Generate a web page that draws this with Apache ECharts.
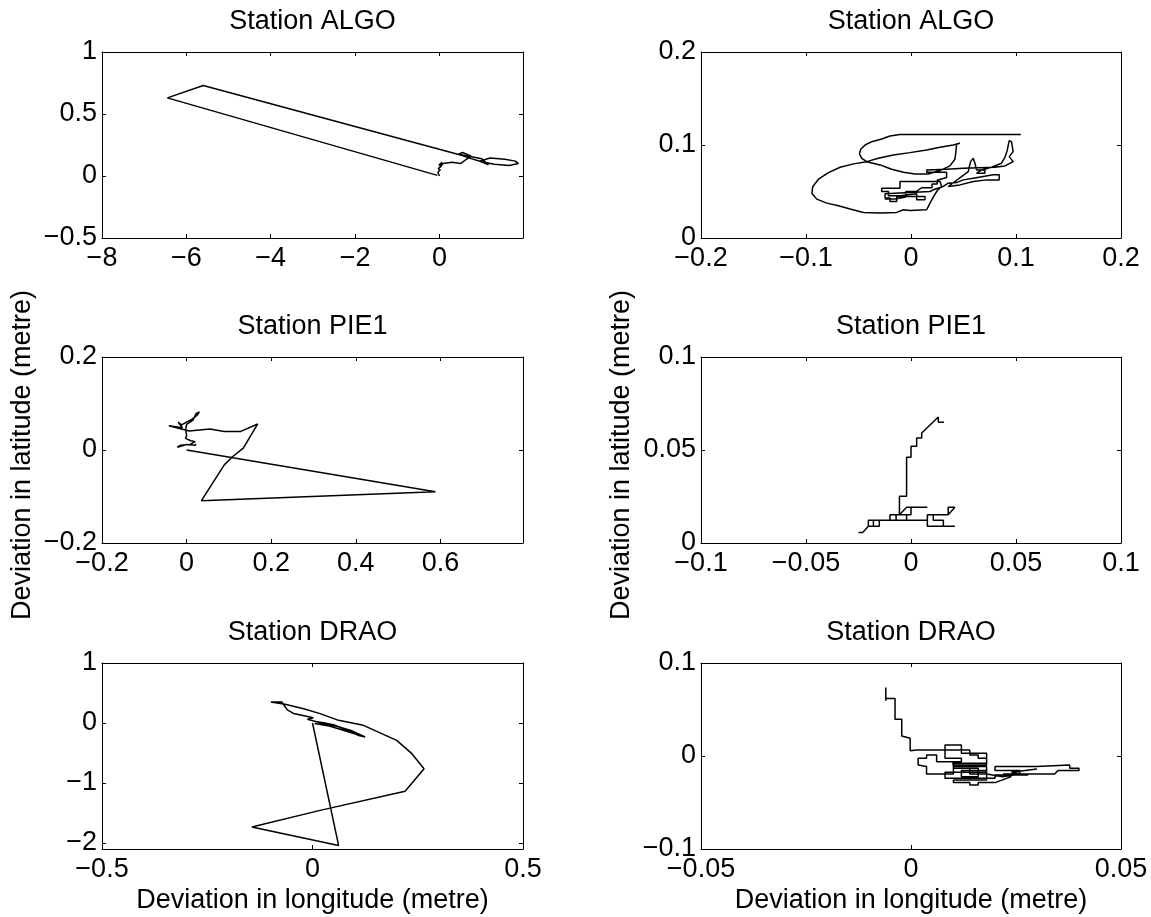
<!DOCTYPE html>
<html>
<head>
<meta charset="utf-8">
<script src="https://cdn.jsdelivr.net/npm/echarts@6/dist/echarts.min.js"></script>
<style>
  html, body { margin: 0; padding: 0; background: #fff; }
  #chart { width: 1151px; height: 917px; }
</style>
</head>
<body>
<div id="chart"></div>
<script>
// Horizontal deviation tracks [longitude, latitude] in metres, per station.
// Left column: full record; right column: cleaned record (close-up).
const algoFullTrack = [
  [0, 0], [-0.04, 0.03], [0.02, 0.05], [-0.03, 0.06], [0.04, 0.08], [-0.01, 0.09],
  [0.06, 0.11], [0.02, 0.07], [0.08, 0.10], [0.3, 0.11], [0.5, 0.10], [0.62, 0.13],
  [0.75, 0.16], [0.55, 0.19], [0.45, 0.175], [0.7, 0.16], [1.0, 0.14], [1.16, 0.09],
  [0.95, 0.12], [1.2, 0.145], [1.55, 0.135], [1.8, 0.12], [1.87, 0.10], [1.65, 0.085],
  [1.3, 0.095], [1.0, 0.115], [0.75, 0.14], [0.52, 0.167], [-5.6, 0.73], [-6.45, 0.63],
  [-0.05, 0.005]
];

const algoCleanTrack = [
  [0.1046, 0.1114], [-0.0105, 0.1114], [-0.0200, 0.1097], [-0.0279, 0.1064], [-0.0374, 0.1036],
  [-0.0437, 0.1000], [-0.0479, 0.0954], [-0.0491, 0.0904], [-0.0469, 0.0857], [-0.0421, 0.0821],
  [-0.0295, 0.0786], [-0.0184, 0.0739], [-0.0073, 0.0707], [0.0038, 0.0689], [0.0165, 0.0689],
  [0.0276, 0.0725], [0.0371, 0.0775], [0.0418, 0.0846], [0.0428, 0.0929], [0.0434, 0.1011],
  [0.0466, 0.1018], [0.0403, 0.1000], [0.0276, 0.0975], [0.0149, 0.0946], [-0.0010, 0.0918],
  [-0.0168, 0.0893], [-0.0311, 0.0857], [-0.0421, 0.0821], [-0.0548, 0.0797], [-0.0675, 0.0761],
  [-0.0786, 0.0703], [-0.0881, 0.0632], [-0.0935, 0.0554], [-0.0944, 0.0482], [-0.0897, 0.0418],
  [-0.0802, 0.0375], [-0.0691, 0.0346], [-0.0580, 0.0311], [-0.0453, 0.0275], [-0.0295, 0.0268],
  [-0.0136, 0.0275], [-0.0073, 0.0304], [-0.0010, 0.0296], [0.0149, 0.0304], [0.0181, 0.0375],
  [0.0219, 0.0454], [0.0251, 0.0511], [0.0292, 0.0554], [0.0276, 0.0607], [-0.0105, 0.0607],
  [-0.0105, 0.0536], [-0.0279, 0.0536], [-0.0279, 0.0500], [-0.0215, 0.0500], [-0.0215, 0.0454],
  [-0.0105, 0.0454], [-0.0105, 0.0475], [0.0054, 0.0475], [0.0054, 0.0411], [0.0133, 0.0411],
  [0.0133, 0.0446], [-0.0136, 0.0446], [-0.0136, 0.0393], [-0.0200, 0.0393], [-0.0200, 0.0429],
  [-0.0247, 0.0429], [-0.0247, 0.0475], [0.0181, 0.0500], [0.0212, 0.0518], [0.0307, 0.0554],
  [0.0355, 0.0589], [0.0434, 0.0596], [0.0498, 0.0625], [0.0593, 0.0643], [0.0688, 0.0661],
  [0.0783, 0.0679], [0.0840, 0.0679], [0.0840, 0.0625], [0.0720, 0.0625], [0.0593, 0.0607],
  [0.0466, 0.0571], [0.0355, 0.0554], [0.0545, 0.0714], [0.0567, 0.0821], [0.0593, 0.0857],
  [0.0609, 0.0804], [0.0624, 0.0732], [0.0704, 0.0732], [0.0704, 0.0696], [0.0624, 0.0696],
  [0.0672, 0.0732], [0.0767, 0.0761], [0.0862, 0.0804], [0.0894, 0.0868], [0.0916, 0.0939],
  [0.0935, 0.1047], [0.0957, 0.1036], [0.0973, 0.0929], [0.0935, 0.0875], [0.0973, 0.0821],
  [0.0894, 0.0775], [0.0799, 0.0761], [0.0498, 0.0750], [0.0339, 0.0739], [0.0149, 0.0732],
  [0.0149, 0.0707], [0.0339, 0.0707], [0.0339, 0.0650], [0.0250, 0.0620], [0.0250, 0.0580],
  [0.0200, 0.0580], [0.0200, 0.0540], [0.0100, 0.0540], [0.0050, 0.0500], [-0.0050, 0.0500],
  [-0.0050, 0.0440], [-0.0150, 0.0420], [-0.0250, 0.0420]
];

const pie1FullTrack = [
  [0, 0], [0.588, -0.090], [0.035, -0.109], [0.089, -0.032], [0.109, -0.014], [0.134, 0.004],
  [0.168, 0.056], [0.128, 0.040], [0.089, 0.040], [0.055, 0.045], [0.053, 0.041], [0.006, 0.041],
  [-0.042, 0.052], [-0.010, 0.048], [-0.020, 0.060], [-0.012, 0.054], [0.000, 0.060], [0.012, 0.066],
  [0.020, 0.071], [0.026, 0.076], [0.030, 0.082], [0.022, 0.078], [0.015, 0.064], [0.000, 0.055],
  [-0.002, 0.045], [0.000, 0.030], [-0.003, 0.025], [0.010, 0.020], [0.020, 0.018], [0.008, 0.012],
  [-0.015, 0.010], [-0.022, 0.006], [0.000, 0.012], [0.020, 0.010], [0.022, 0.013]
];

const pie1CleanTrack = [
  [0.0157, 0.0649], [0.0130, 0.0649], [0.0130, 0.0677], [0.0051, 0.0591], [0.0051, 0.0565],
  [0.0027, 0.0565], [0.0027, 0.0520], [0.0000, 0.0520], [0.0000, 0.0461], [-0.0021, 0.0461],
  [-0.0021, 0.0251], [-0.0055, 0.0251], [-0.0055, 0.0152], [-0.0021, 0.0192], [0.0078, 0.0192],
  [0.0000, 0.0192], [0.0000, 0.0152], [-0.0100, 0.0152], [-0.0100, 0.0122], [-0.0071, 0.0122],
  [-0.0071, 0.0152], [-0.0021, 0.0152], [-0.0021, 0.0122], [0.0078, 0.0122], [0.0078, 0.0152],
  [0.0177, 0.0152], [0.0209, 0.0192], [0.0177, 0.0192], [0.0177, 0.0152], [0.0106, 0.0152],
  [0.0106, 0.0122], [0.0154, 0.0122], [0.0154, 0.0090], [0.0209, 0.0090], [0.0078, 0.0090],
  [0.0078, 0.0122], [-0.0203, 0.0122], [-0.0203, 0.0090], [-0.0151, 0.0090], [-0.0151, 0.0122],
  [-0.0179, 0.0122], [-0.0179, 0.0090], [-0.0203, 0.0090], [-0.0230, 0.0057], [-0.0250, 0.0057]
];

const draoFullTrack = [
  [0, 0], [0.062, -2.04], [-0.144, -1.733], [0.018, -1.456], [0.220, -1.139], [0.265, -0.761],
  [0.236, -0.511], [0.200, -0.289], [0.121, -0.039], [0.062, 0.044], [0.018, 0.156], [-0.021, 0.239],
  [-0.065, 0.311], [-0.099, 0.350], [-0.073, 0.350], [-0.068, 0.300], [-0.060, 0.220], [-0.045, 0.160],
  [0.002, 0.089], [-0.012, 0.061], [0.020, 0.000], [0.060, -0.060], [0.090, -0.120], [0.125, -0.233],
  [0.110, -0.210], [0.070, -0.080], [0.030, 0.000], [0.010, 0.020], [0.050, -0.030], [0.075, -0.100],
  [0.100, -0.180], [0.040, -0.050], [0.005, -0.010]
];

const draoCleanTrack = [
  [-0.0060, 0.0737], [-0.0060, 0.0594], [-0.0060, 0.0619], [-0.0038, 0.0619], [-0.0038, 0.0394],
  [-0.0022, 0.0394], [-0.0022, 0.0215], [-0.0002, 0.0190], [-0.0002, 0.0057], [0.0013, 0.0064],
  [0.0140, 0.0064], [0.0140, 0.0011], [0.0160, 0.0011], [0.0160, -0.0025], [0.0180, -0.0025],
  [0.0180, -0.0097], [0.0100, -0.0097], [0.0100, -0.0061], [0.0061, -0.0061], [0.0061, 0.0011],
  [0.0037, 0.0011], [0.0037, -0.0025], [0.0017, -0.0025], [0.0017, -0.0097], [0.0037, -0.0114],
  [0.0037, -0.0193], [0.0101, -0.0193], [0.0101, -0.0132], [0.0160, -0.0132], [0.0160, -0.0222],
  [0.0120, -0.0222], [0.0120, -0.0157], [0.0180, -0.0157], [0.0180, -0.0258], [0.0101, -0.0258],
  [0.0101, -0.0286], [0.0140, -0.0286], [0.0140, -0.0311], [0.0160, -0.0311], [0.0160, -0.0286],
  [0.0200, -0.0286], [0.0239, -0.0222], [0.0219, -0.0193], [0.0259, -0.0193], [0.0259, -0.0157],
  [0.0200, -0.0157], [0.0200, -0.0114], [0.0239, -0.0114], [0.0299, -0.0114], [0.0299, -0.0097],
  [0.0378, -0.0097], [0.0378, -0.0132], [0.0400, -0.0132], [0.0400, -0.0157], [0.0350, -0.0157],
  [0.0342, -0.0193], [0.0259, -0.0193], [0.0219, -0.0222], [0.0180, -0.0193], [0.0140, -0.0193],
  [0.0140, -0.0132], [0.0101, -0.0132], [0.0101, -0.0061], [0.0120, -0.0061], [0.0120, -0.0025],
  [0.0081, -0.0025], [0.0081, 0.0118], [0.0120, 0.0118], [0.0120, 0.0064], [0.0120, 0.0030],
  [0.0180, 0.0030], [0.0180, -0.0079], [0.0101, -0.0079], [0.0101, -0.0114], [0.0180, -0.0114],
  [0.0180, -0.0176], [0.0081, -0.0176], [0.0081, -0.0240], [0.0200, -0.0240], [0.0200, -0.0205],
  [0.0279, -0.0205], [0.0239, -0.0176], [0.0300, -0.0140]
];

// Tick positions (metres)
const algoFullLonTicks = [-8, -6, -4, -2, 0];
const algoFullLatTicks = [-0.5, 0, 0.5, 1];
const algoCleanLonTicks = [-0.2, -0.1, 0, 0.1, 0.2];
const algoCleanLatTicks = [0, 0.1, 0.2];
const pie1FullLonTicks = [-0.2, 0, 0.2, 0.4, 0.6];
const pie1FullLatTicks = [-0.2, 0, 0.2];
const pie1CleanLonTicks = [-0.1, -0.05, 0, 0.05, 0.1];
const pie1CleanLatTicks = [0, 0.05, 0.1];
const draoFullLonTicks = [-0.5, 0, 0.5];
const draoFullLatTicks = [-2, -1, 0, 1];
const draoCleanLonTicks = [-0.05, 0, 0.05];
const draoCleanLatTicks = [-0.1, 0, 0.1];

const stationTitles = ['Station ALGO', 'Station ALGO', 'Station PIE1', 'Station PIE1', 'Station DRAO', 'Station DRAO'];
const xAxisTitle = 'Deviation in longitude (metre)';
const yAxisTitle = 'Deviation in latitude (metre)';

// Panel set-up: track, axis limits and ticks
const panels = [
  { track: algoFullTrack,  lon: [-8, 1.98],    lat: [-0.5, 1],   lonTicks: algoFullLonTicks,  latTicks: algoFullLatTicks },
  { track: algoCleanTrack, lon: [-0.2, 0.2],   lat: [0, 0.2],    lonTicks: algoCleanLonTicks, latTicks: algoCleanLatTicks },
  { track: pie1FullTrack,  lon: [-0.2, 0.795], lat: [-0.2, 0.2], lonTicks: pie1FullLonTicks,  latTicks: pie1FullLatTicks },
  { track: pie1CleanTrack, lon: [-0.1, 0.1],   lat: [0, 0.1],    lonTicks: pie1CleanLonTicks, latTicks: pie1CleanLatTicks },
  { track: draoFullTrack,  lon: [-0.5, 0.5],   lat: [-2.1, 1],   lonTicks: draoFullLonTicks,  latTicks: draoFullLatTicks },
  { track: draoCleanTrack, lon: [-0.05, 0.05], lat: [-0.1, 0.1], lonTicks: draoCleanLonTicks, latTicks: draoCleanLatTicks }
];

// Layout (pixels)
const colLeft = [102, 701];
const colWidth = [421, 420];
const rowTop = [52, 357, 663];
const plotHeight = 186;

const FONT = '"Liberation Sans", Arial, Helvetica, sans-serif';
const FONT_SIZE = 27;
const INK = '#000';

function fmt(v) {
  const s = String(+Number(v).toPrecision(10));
  return s.replace('-', '\u2212');
}

function makeAxis(dim, pos, gridIndex, range, ticks, labelled) {
  return {
    type: 'value',
    gridIndex: gridIndex,
    position: pos,
    min: range[0],
    max: range[1],
    scale: true,
    axisLine: { show: true, onZero: false, lineStyle: { color: INK, width: 1 } },
    axisTick: { show: true, inside: true, length: 4, customValues: ticks, lineStyle: { color: INK, width: 1 } },
    axisLabel: labelled ? {
      show: true,
      customValues: ticks,
      formatter: fmt,
      color: INK,
      fontFamily: FONT,
      fontSize: FONT_SIZE,
      margin: dim === 'x' ? 7 : 5
    } : { show: false },
    splitLine: { show: false }
  };
}

const grids = [], xAxes = [], yAxes = [], series = [], graphics = [];

panels.forEach((p, i) => {
  const col = i % 2, row = Math.floor(i / 2);
  grids.push({
    left: colLeft[col], top: rowTop[row], width: colWidth[col], height: plotHeight,
    containLabel: false, outerBoundsMode: 'none',
    show: false
  });
  xAxes.push(makeAxis('x', 'bottom', i, p.lon, p.lonTicks, true));
  xAxes.push(makeAxis('x', 'top', i, p.lon, p.lonTicks, false));
  yAxes.push(makeAxis('y', 'left', i, p.lat, p.latTicks, true));
  yAxes.push(makeAxis('y', 'right', i, p.lat, p.latTicks, false));
  series.push({
    type: 'line',
    xAxisIndex: 2 * i,
    yAxisIndex: 2 * i,
    data: p.track,
    symbol: 'none',
    clip: true,
    lineStyle: { color: INK, width: 1.5 },
    silent: true
  });
  graphics.push({
    type: 'text',
    x: colLeft[col] + colWidth[col] / 2,
    y: rowTop[row] - 30,
    style: { text: stationTitles[i], fill: INK, font: FONT_SIZE + 'px ' + FONT, align: 'center', verticalAlign: 'middle' }
  });
});

[0, 1].forEach(col => {
  const cx = colLeft[col] + colWidth[col] / 2;
  graphics.push({
    type: 'text', x: cx, y: 901,
    style: { text: xAxisTitle, fill: INK, font: FONT_SIZE + 'px ' + FONT, align: 'center', verticalAlign: 'middle' }
  });
  graphics.push({
    type: 'text', x: colLeft[col] - 79, y: 455, rotation: Math.PI / 2,
    style: { text: yAxisTitle, fill: INK, font: FONT_SIZE + 'px ' + FONT, align: 'center', verticalAlign: 'middle' }
  });
});

const chart = echarts.init(document.getElementById('chart'), null, { renderer: 'canvas' });
chart.setOption({
  animation: false,
  backgroundColor: '#fff',
  grid: grids,
  xAxis: xAxes,
  yAxis: yAxes,
  series: series,
  graphic: graphics
});
</script>
</body>
</html>
